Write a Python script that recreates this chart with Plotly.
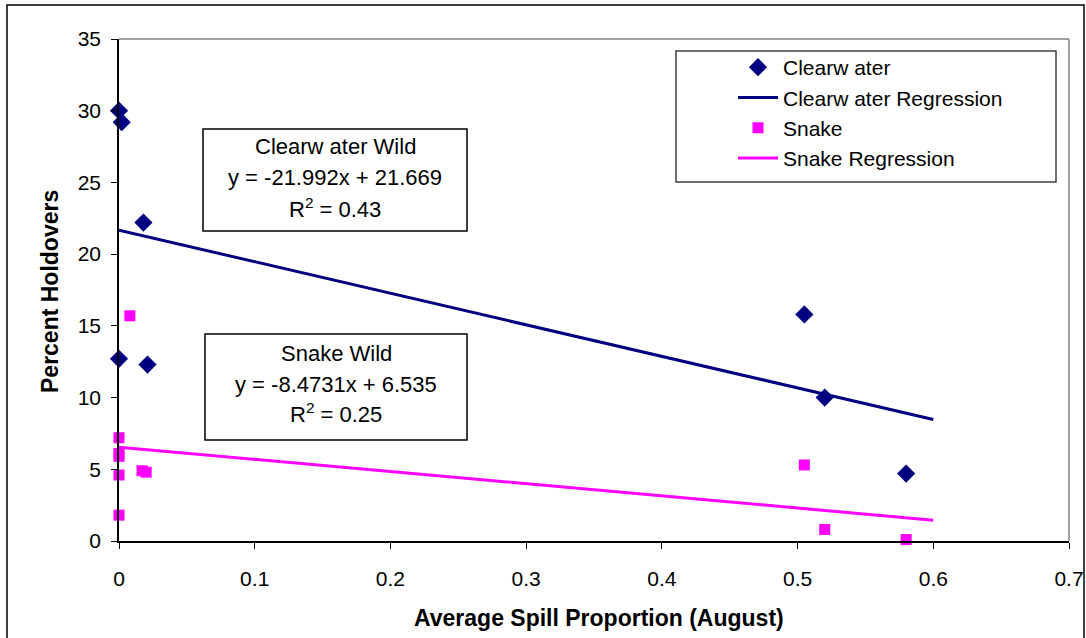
import plotly.graph_objects as go

# ---- data ----
cw_x = [0.0, 0.002, 0.018, 0.0, 0.021, 0.505, 0.52, 0.58]
cw_y = [30.0, 29.2, 22.2, 12.7, 12.3, 15.8, 10.0, 4.7]
sn_x = [0.008, 0.0, 0.0, 0.0, 0.0, 0.017, 0.02, 0.0, 0.505, 0.52, 0.58]
sn_y = [15.7, 7.2, 6.1, 5.9, 4.6, 4.9, 4.8, 1.8, 5.3, 0.8, 0.1]

reg_x = [0.0, 0.6]
cw_slope, cw_int, cw_r2 = -21.992, 21.669, 0.43
sn_slope, sn_int, sn_r2 = -8.4731, 6.535, 0.25

x_ticks = [0, 0.1, 0.2, 0.3, 0.4, 0.5, 0.6, 0.7]
y_ticks = [0, 5, 10, 15, 20, 25, 30, 35]

NAVY = "#000080"
MAG = "#FF00FF"
FONT = "Liberation Sans, Arial, sans-serif"

W, H = 1086, 638
L, R, T, B = 119, 17, 39, 97
PW, PH = W - L - R, H - T - B


def px(x):
    return (x - L) / PW


def py(y):
    return (H - B - y) / PH


fig = go.Figure()
fig.add_trace(go.Scatter(x=cw_x, y=cw_y, mode="markers", name="Clearw ater", cliponaxis=False,
                         marker=dict(symbol="diamond", size=14, color=NAVY)))
fig.add_trace(go.Scatter(x=reg_x, y=[cw_int + cw_slope * v for v in reg_x], mode="lines",
                         name="Clearw ater Regression", line=dict(color=NAVY, width=3)))
fig.add_trace(go.Scatter(x=sn_x, y=sn_y, mode="markers", name="Snake", cliponaxis=False,
                         marker=dict(symbol="square", size=11, color=MAG)))
fig.add_trace(go.Scatter(x=reg_x, y=[sn_int + sn_slope * v for v in reg_x], mode="lines",
                         name="Snake Regression", line=dict(color=MAG, width=3)))

shapes = [
    # outer chart border
    dict(type="rect", xref="paper", yref="paper", x0=px(7), x1=px(1084), y0=py(650), y1=py(5),
         line=dict(color="black", width=1.5), fillcolor="rgba(0,0,0,0)", layer="below"),
    # plot area top/right border
    dict(type="line", xref="paper", yref="paper", x0=0, x1=1, y0=1, y1=1,
         line=dict(color="#808080", width=1.5)),
    dict(type="line", xref="paper", yref="paper", x0=1, x1=1, y0=0, y1=1,
         line=dict(color="#808080", width=1.5)),
    # legend box
    dict(type="rect", xref="paper", yref="paper", x0=px(676), x1=px(1056), y0=py(182), y1=py(51),
         line=dict(color="#404040", width=1.5), fillcolor="white", layer="below"),
    # equation boxes
    dict(type="rect", xref="paper", yref="paper", x0=px(203), x1=px(467), y0=py(231), y1=py(129),
         line=dict(color="black", width=1.5), fillcolor="white"),
    dict(type="rect", xref="paper", yref="paper", x0=px(205), x1=px(467), y0=py(440), y1=py(334),
         line=dict(color="black", width=1.5), fillcolor="white"),
]

ann = []


def txt(x, y, s, size=22, bold=False, angle=0):
    ann.append(dict(x=px(x), y=py(y), xref="paper", yref="paper", text=(f"<b>{s}</b>" if bold else s),
                    showarrow=False, xanchor="center", yanchor="middle", textangle=angle,
                    font=dict(family=FONT, size=size, color="black")))


txt(335, 146, "Clearw ater Wild")
txt(335, 177, f"y = {cw_slope}x + {cw_int}")
txt(335, 208, f"R<sup>2</sup> = {cw_r2}")
txt(336, 353, "Snake Wild")
txt(336, 384, f"y = {sn_slope}x + {sn_int}")
txt(336, 413, f"R<sup>2</sup> = {sn_r2}")
txt(599, 618, "Average Spill Proportion (August)", size=23, bold=True)
txt(50, 292, "Percent Holdovers", size=23, bold=True, angle=-90)

fig.update_layout(
    width=W, height=H,
    margin=dict(l=L, r=R, t=T, b=B, pad=0, autoexpand=False),
    paper_bgcolor="white", plot_bgcolor="white",
    font=dict(family=FONT, size=21, color="black"),
    showlegend=True,
    legend=dict(x=px(733), y=py(47), xanchor="left", yanchor="top",
                bgcolor="rgba(0,0,0,0)", borderwidth=0,
                font=dict(family=FONT, size=21, color="black"), itemwidth=40),
    shapes=shapes, annotations=ann,
    xaxis=dict(range=[0, 0.7], tickvals=x_ticks, ticktext=[f"{v:g}" for v in x_ticks],
               automargin=False,
               showgrid=False, zeroline=False, showline=True, linecolor="black", linewidth=1.5,
               ticks="outside", ticklen=6, tickcolor="black", ticklabelstandoff=12,
               tickfont=dict(family=FONT, size=21, color="black")),
    yaxis=dict(range=[0, 35], tickvals=y_ticks, ticktext=[str(v) for v in y_ticks],
               automargin=False,
               showgrid=False, zeroline=False, showline=True, linecolor="black", linewidth=1.5,
               ticks="outside", ticklen=6, tickcolor="black", ticklabelstandoff=6,
               tickfont=dict(family=FONT, size=21, color="black")),
)

fig.write_html("out.html", config={"displayModeBar": False},
               post_script="document.body.style.margin='0';document.body.style.overflow='hidden';")
